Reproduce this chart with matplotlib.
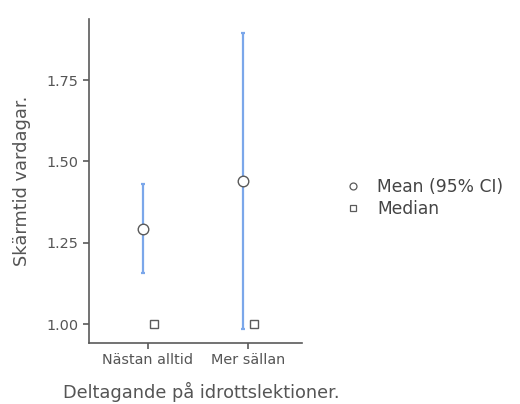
import numpy as np
import matplotlib.pyplot as plt
from matplotlib.lines import Line2D

plt.rcParams['font.family'] = ['DejaVu Sans']

categories = ['Nästan alltid', 'Mer sällan']
means = [1.292, 1.440]
ci_low = [1.158, 0.985]
ci_high = [1.429, 1.894]
medians = [1.00, 1.00]
yticks = [1.00, 1.25, 1.50, 1.75]

grey = '#5a5a5a'
text_grey = '#555555'
blue = '#7BA7EA'

fig = plt.figure(figsize=(5.2, 4.04), dpi=100)
ax = fig.add_axes([89/520, 61/404, 213/520, 324/404])

x = np.arange(1, len(categories) + 1)
means = np.array(means)
yerr = [means - np.array(ci_low), np.array(ci_high) - means]
ax.errorbar(x - 0.05, means, yerr=yerr, fmt='none', ecolor=blue, elinewidth=1.6,
            capsize=1.5, capthick=1.6, zorder=2)
ax.plot(x - 0.05, means, 'o', ms=7.6, mfc='white', mec=grey, mew=1.0, zorder=3)
ax.plot(x + 0.06, medians, 's', ms=6.2, mfc='white', mec=grey, mew=1.0, zorder=3)

ax.set_xlim(0.41, 2.54)
ax.set_ylim(0.9416, 1.9376)
ax.set_xticks(x)
ax.set_xticklabels(categories)
ax.set_yticks(yticks)
ax.set_yticklabels([f'{v:.2f}' for v in yticks])
ax.tick_params(colors=grey, labelcolor=text_grey, labelsize=10.4, length=4, width=1.2, pad=3.5)
for s in ['top', 'right']:
    ax.spines[s].set_visible(False)
for s in ['left', 'bottom']:
    ax.spines[s].set_color(grey)
    ax.spines[s].set_linewidth(1.2)

ax.set_ylabel('Skärmtid vardagar.', fontsize=12.8, color=text_grey)
ax.set_xlabel('Deltagande på idrottslektioner.', fontsize=12.8, color=text_grey)
ax.yaxis.set_label_coords((22 - 89) / 213, 0.5)
ax.xaxis.set_label_coords((201 - 89) / 213, -(392 - 343) / 324)
ax.xaxis.label.set_va('center')
ax.yaxis.label.set_va('center')

handles = [
    Line2D([], [], ls='none', marker='o', ms=5, mfc='white', mec=grey, mew=0.9),
    Line2D([], [], ls='none', marker='s', ms=5, mfc='white', mec=grey, mew=0.9),
]
fig.legend(handles, ['Mean (95% CI)', 'Median'], loc='center left',
           bbox_to_anchor=(344/520, 1 - 198/404), frameon=False, fontsize=12.3,
           labelcolor='#444444', handletextpad=0.95, labelspacing=0.2, handlelength=1.0,
           borderpad=0, borderaxespad=0)

fig.savefig('out.png', dpi=100, facecolor='white')
